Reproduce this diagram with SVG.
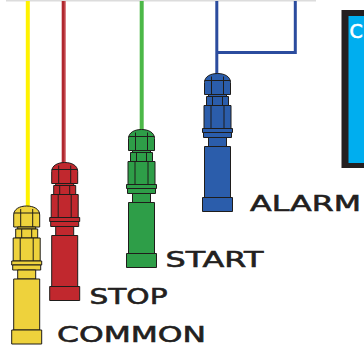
<svg xmlns="http://www.w3.org/2000/svg" xmlns:xlink="http://www.w3.org/1999/xlink" width="364" height="347" viewBox="0 0 364 347">
  <style>
    .part { stroke: #1f1d1b; stroke-width: 1; stroke-linejoin: round; }
    .edge { fill: none; stroke: #1f1d1b; stroke-width: 1; }
    .wire { fill: none; stroke-width: 4; }
    .label { font-family: "DejaVu Sans", "Liberation Sans", sans-serif; font-size: 22px; fill: #231f20; stroke: #231f20; stroke-width: 0.6; }
  </style>
  <defs>
    <!-- float switch body, centred on x=0, top of the cap at y=0 -->
    <g id="sensor">
      <path class="part" d="M-13,21 V9 C-13,3 -7,0 0,0 C7,0 13,3 13,9 V21 Z"/>
      <path class="edge" d="M-13,7 H13 M-6,3 V21 M6,3 V21"/>
      <rect class="part" x="-9" y="21" width="18" height="2"/>
      <rect class="part" x="-11" y="23" width="22" height="9"/>
      <path class="edge" d="M-5,23 V32 M5,23 V32"/>
      <rect class="part" x="-13.5" y="32" width="27" height="23"/>
      <path class="edge" d="M-6.5,32 V55 M6.5,32 V55"/>
      <rect class="part" x="-15" y="55" width="30" height="4"/>
      <rect class="part" x="-14" y="59" width="28" height="5"/>
      <rect class="part" x="-9" y="64" width="18" height="9"/>
      <rect class="part" x="-13" y="73" width="26" height="51"/>
      <rect class="part" x="-15" y="124" width="30" height="14"/>
    </g>
  </defs>

  <!-- top rail -->
  <rect x="6" y="0" width="310" height="1.5" fill="#dcdcdc"/>

  <!-- control box -->
  <g id="control-box">
    <rect x="341.5" y="10" width="30" height="158" fill="#231f20"/>
    <rect x="348.5" y="16" width="20" height="147" fill="#00aeef"/>
    <text x="349.5" y="38" font-family="DejaVu Sans, sans-serif" font-size="19" fill="#ffffff" stroke="#ffffff" stroke-width="0.6">C</text>
  </g>

  <!-- connectors: signal wires -->
  <g id="wires">
    <line class="wire" x1="27.8" y1="1" x2="27.8" y2="207" stroke="#fff200"/>
    <line class="wire" x1="63.7" y1="1" x2="63.7" y2="163" stroke="#b0272e"/>
    <line x1="65.2" y1="1" x2="65.2" y2="163" stroke="#e38a8e" stroke-width="1"/>
    <line class="wire" x1="141.7" y1="1" x2="141.7" y2="131" stroke="#4cb848"/>
    <path d="M216.8,74 V1 M216.8,52.5 H295.3 V1" fill="none" stroke="#2b4c9e" stroke-width="3"/>
  </g>

  <g id="common">
    <use xlink:href="#sensor" transform="translate(26.7,206)" fill="#eed23c"/>
    <text class="label" x="57" y="342" textLength="149" lengthAdjust="spacingAndGlyphs">COMMON</text>
  </g>

  <g id="stop">
    <use xlink:href="#sensor" transform="translate(64.7,162.5)" fill="#c1282e"/>
    <text class="label" x="89.5" y="303.5" textLength="78" lengthAdjust="spacingAndGlyphs">STOP</text>
  </g>

  <g id="start">
    <use xlink:href="#sensor" transform="translate(141.5,129.5)" fill="#2e9e48"/>
    <text class="label" x="165.5" y="267" textLength="98" lengthAdjust="spacingAndGlyphs">START</text>
  </g>

  <g id="alarm">
    <use xlink:href="#sensor" transform="translate(217.5,73.5)" fill="#2b5dab"/>
    <text class="label" x="250" y="211" textLength="111" lengthAdjust="spacingAndGlyphs">ALARM</text>
  </g>
</svg>
